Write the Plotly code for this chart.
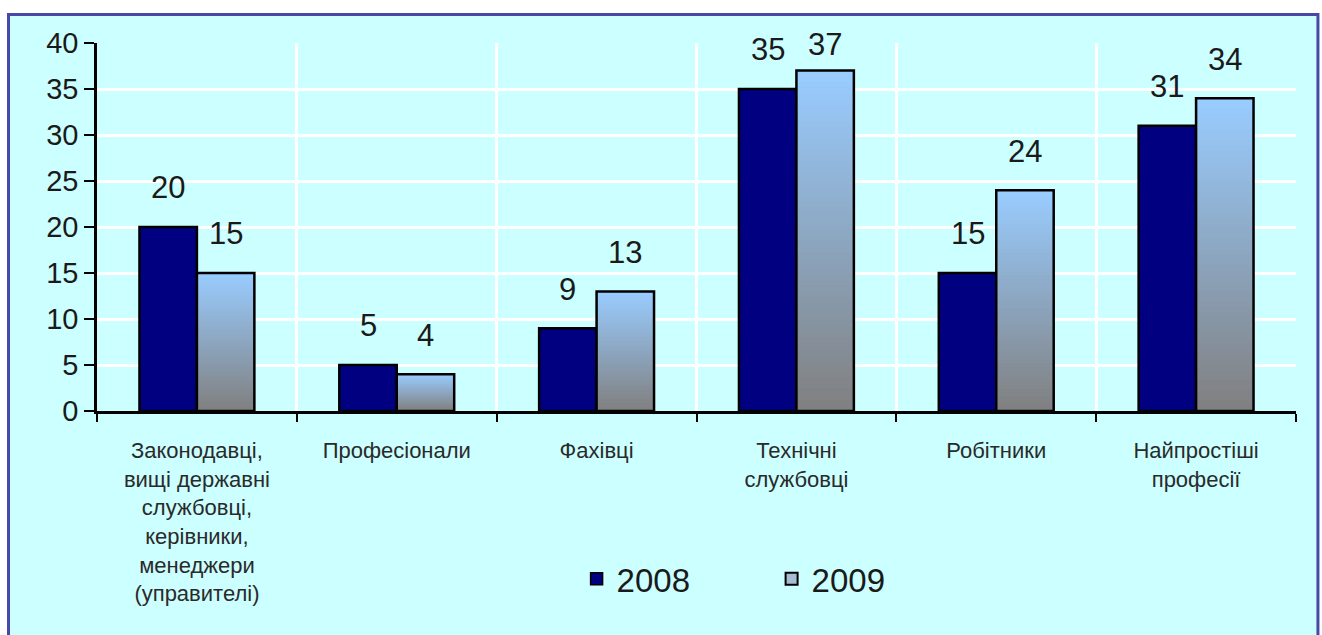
import plotly.graph_objects as go

categories = [
    "Законодавці,<br>вищі державні<br>службовці,<br>керівники,<br>менеджери<br>(управителі)",
    "Професіонали",
    "Фахівці",
    "Технічні<br>службовці",
    "Робітники",
    "Найпростіші<br>професії",
]
values_2008 = [20, 5, 9, 35, 15, 31]
values_2009 = [15, 4, 13, 37, 24, 34]
y_ticks = [0, 5, 10, 15, 20, 25, 30, 35, 40]

FONT = "Arial, Liberation Sans, sans-serif"
NAVY = "#000080"
TOP = (153, 204, 255)
BOTTOM = (128, 128, 128)
BW = 0.2875
N_STEPS = 60

fig = go.Figure()

fig.add_trace(go.Bar(
    x=categories, y=values_2008, name="2008",
    width=BW, offset=-BW,
    marker=dict(color=NAVY, line=dict(color="black", width=2.5)),
    showlegend=False,
))

# gradient fill for 2009 bars (top light blue -> bottom gray)
gx, gy, gc = [], [], []
for k in range(N_STEPS):
    t = k / (N_STEPS - 1)
    r = round(TOP[0] + (BOTTOM[0] - TOP[0]) * t)
    g = round(TOP[1] + (BOTTOM[1] - TOP[1]) * t)
    b = round(TOP[2] + (BOTTOM[2] - TOP[2]) * t)
    for c, v in zip(categories, values_2009):
        gx.append(c)
        gy.append(v * (1 - k / N_STEPS))
        gc.append(f"rgb({r},{g},{b})")
fig.add_trace(go.Bar(
    x=gx, y=gy, width=BW, offset=0,
    marker=dict(color=gc, line=dict(width=0)),
    showlegend=False, hoverinfo="skip",
))
fig.add_trace(go.Bar(
    x=categories, y=values_2009, name="2009",
    width=BW, offset=0,
    marker=dict(color="rgba(0,0,0,0)", line=dict(color="black", width=2.5)),
    showlegend=False,
))

# legend entries
fig.add_trace(go.Bar(x=[None], y=[None], name="2008",
                     marker=dict(color=NAVY, line=dict(color="black", width=1.5))))
fig.add_trace(go.Bar(x=[None], y=[None], name="2009",
                     marker=dict(color="#A8BCD4", line=dict(color="black", width=2))))

# data labels
label_off = 4.24
for vals, shift in ((values_2008, -BW / 2 * 1199 / 6), (values_2009, BW / 2 * 1199 / 6)):
    for c, v in zip(categories, vals):
        fig.add_annotation(
            x=c, y=min(v + label_off, 39.8), text=str(v), showarrow=False,
            xshift=shift, yanchor="middle",
            font=dict(family=FONT, size=31, color="#1a1a1a"),
        )

fig.add_shape(
    type="rect", xref="paper", yref="paper",
    x0=-0.0738, x1=1.0183, y0=-0.75, y1=1.0774,
    fillcolor="#CCFFFF", line=dict(color="#4848A8", width=3), layer="below",
)

fig.update_layout(
    width=1322, height=635,
    margin=dict(l=97, r=26, t=43, b=224),
    paper_bgcolor="white", plot_bgcolor="rgba(0,0,0,0)",
    barmode="overlay",
    font=dict(family=FONT, color="#1a1a1a"),
    legend=dict(
        orientation="h", x=0.400, y=-0.456, xanchor="left", yanchor="middle",
        font=dict(family=FONT, size=33, color="#1a1a1a"),
        bgcolor="rgba(0,0,0,0)", entrywidth=150, itemclick=False,
    ),
    xaxis=dict(
        type="category", tickson="boundaries", ticks="outside", ticklen=8,
        tickwidth=2, tickcolor="black", showline=True, linecolor="black",
        linewidth=2.5, showgrid=True, gridcolor="white", gridwidth=2.5,
        tickfont=dict(family=FONT, size=22, color="#2a2a2a"),
        ticklabelstandoff=18,
        range=[-0.5, 5.5], fixedrange=True,
    ),
    yaxis=dict(
        range=[0, 40], tickvals=y_ticks, ticks="outside", ticklen=10,
        tickwidth=2, tickcolor="black", showline=True, linecolor="black",
        linewidth=2.5, showgrid=True, gridcolor="white", gridwidth=2.5,
        zeroline=False, tickfont=dict(family=FONT, size=29, color="#1a1a1a"),
        fixedrange=True,
    ),
)

fig.write_html("out.html", config={"displayModeBar": False},
               post_script="document.body.style.margin='0';")
